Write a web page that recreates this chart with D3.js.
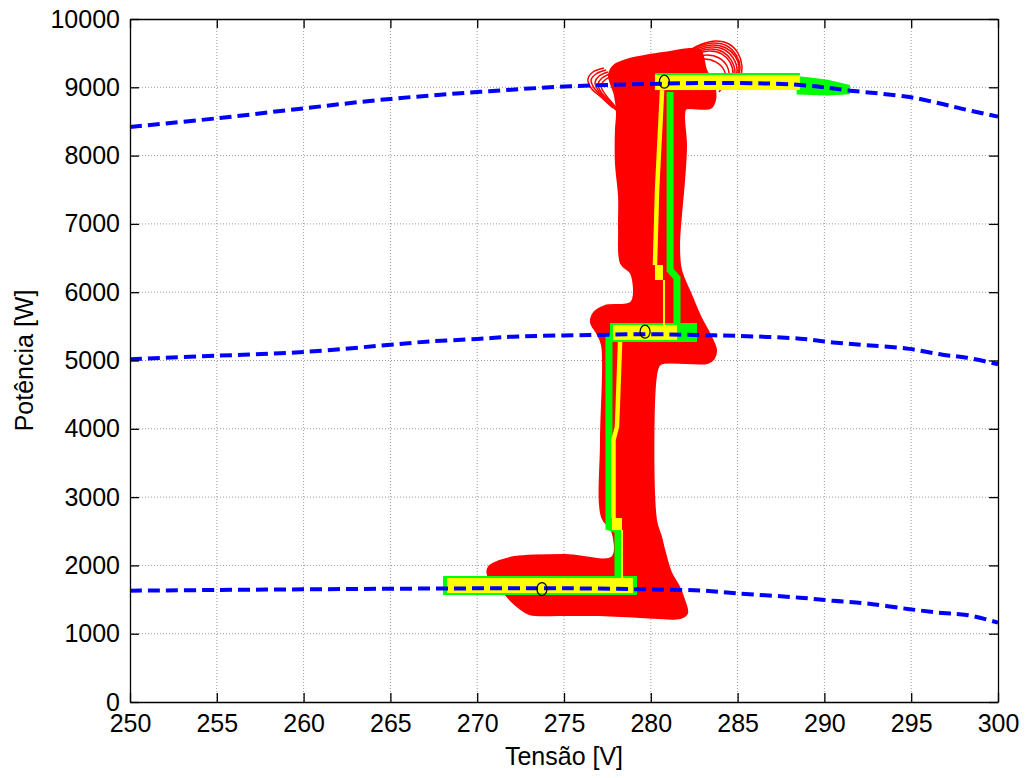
<!DOCTYPE html>
<html>
<head>
<meta charset="utf-8">
<script src="https://cdn.jsdelivr.net/npm/d3@7"></script>
<style>
  body { margin: 0; background: #fff; }
  svg text { font-family: "Liberation Sans", Arial, sans-serif; }
</style>
</head>
<body>
<svg id="chart" width="1025" height="778"></svg>
<script>
const xTicks = [250, 255, 260, 265, 270, 275, 280, 285, 290, 295, 300];
const yTicks = [0, 1000, 2000, 3000, 4000, 5000, 6000, 7000, 8000, 9000, 10000];

// power curves P-V near the maximum power point, one per irradiance level
const mppTop = [[250,8419],[255,8546],[260,8692],[265,8830],[270,8930],[275,9010],[280,9050],[285,9062],[288.6,9034],[291.5,8951],[294.9,8857],[296.8,8755],[298.2,8670],[300,8570]];
const mppMid = [[250,5020],[255,5070],[260,5125],[265,5230],[267.3,5280],[270,5315],[272,5349],[276.5,5373],[280,5385],[282.7,5373],[285,5360],[288.6,5320],[290.5,5265],[292.4,5225],[294.9,5170],[296.8,5085],[298.2,5041],[300,4946]];
const mppLow = [[250,1630],[255,1640],[260,1650],[265,1658],[270,1664],[275,1665],[280,1648],[283,1630],[285,1590],[288.6,1527],[290.5,1482],[292.4,1444],[294.9,1359],[296.8,1303],[298.2,1275],[300,1163]];

// maximum power points
const mppPoints = [[280.78,9082],[279.67,5422],[273.73,1654]];

// red trajectory cloud (outline)
const redCloud = [
  [277.65,9180],[277.94,9312],[278.80,9400],[279.95,9458],[281.11,9502],[282.26,9546],[282.83,9517],
  [283.12,9253],[283.58,9033],[283.64,8814],[283.41,8711],[281.97,8697],[281.86,8594],[281.97,8155],
  [281.86,7643],[281.68,7130],[281.57,6691],[281.68,6325],[282.26,5959],[282.83,5622],[283.29,5403],
  [283.70,5154],[283.58,5036],[283.24,4978],[280.53,4963],[280.30,4861],[280.24,2665],[280.53,2416],
  [280.76,2182],[281.11,1889],[281.57,1684],[281.86,1493],[282.03,1303],[281.68,1245],[279.38,1259],
  [277.07,1288],[274.77,1288],[273.04,1303],[272.18,1449],[271.60,1611],[271.14,1757],[270.68,1859],
  [270.74,1977],[271.31,2050],[272.18,2108],[275.06,2138],[277.82,2108],[277.82,2518],[277.25,2709],
  [277.19,3836],[277.25,5227],[276.96,5403],[276.61,5564],[276.79,5695],[277.36,5783],[278.92,5842],
  [278.92,6281],[278.34,6427],[278.23,6911],[278.23,7394],[278.05,7891],[278.05,8375],[278.11,8624],
  [277.99,8887]
];

// thin red loops at the top of the cloud
const redLoops = [
  [[282.26,9546],[282.95,9634],[283.76,9678],[284.50,9634],[285.02,9502],[285.25,9312],[285.14,9107]],
  [[282.14,9517],[282.83,9605],[283.64,9648],[284.39,9605],[284.91,9473],[285.14,9297],[284.97,9107]],
  [[282.09,9487],[282.78,9575],[283.58,9619],[284.33,9575],[284.85,9458],[285.08,9282],[284.85,9092]],
  [[282.03,9458],[282.72,9546],[283.53,9590],[284.27,9546],[284.74,9429],[284.97,9253],[284.74,9063]],
  [[281.97,9429],[282.66,9517],[283.47,9560],[284.16,9517],[284.62,9400],[284.85,9224],[284.62,9033]],
  [[281.91,9400],[282.60,9487],[283.41,9531],[284.10,9487],[284.56,9370],[284.74,9195],[284.50,9019]],
  [[281.80,9341],[282.49,9429],[283.24,9473],[283.93,9429],[284.39,9312],[284.50,9136],[284.22,8975]],
  [[281.68,9282],[282.37,9370],[283.06,9414],[283.76,9370],[284.22,9253],[284.27,9077],[283.93,8931]],
  [[277.30,9282],[276.67,9224],[276.38,9121],[276.56,8990],[277.13,8858],[277.82,8697]],
  [[277.42,9253],[276.84,9195],[276.56,9107],[276.73,8990],[277.30,8843],[277.99,8667]],
  [[277.53,9224],[277.02,9165],[276.79,9077],[276.96,8960],[277.53,8814],[278.17,8638]],
  [[277.65,9195],[277.19,9136],[276.96,9048],[277.13,8931],[277.71,8770],[278.29,8609]],
  [[277.76,9165],[277.36,9107],[277.13,9019],[277.36,8902],[277.88,8741],[278.40,8580]]
];

// green trajectory: [vMin, vMax, pMin, pMax] bands, tail outline and vertical traces
const greenBands = [[268.03,279.21,1567,1845],[277.65,282.66,5271,5549],[280.24,288.59,8960,9209]];
const greenTail = [[288.40,9165],[289.3,9140],[290.2,9110],[291.47,9033],[291.47,8900],[290.2,8880],[288.40,8895]];
const greenTraces = [
  [[278.11,1786],[278.11,2518],[277.59,2562],[277.59,5373]],
  [[281.11,8930],[281.11,6325],[281.51,6208],[281.51,5520]]
];

// yellow trajectory
const yellowBands = [[268.26,278.97,1596,1815],[277.82,281.51,5300,5520],[280.24,288.59,8960,9180],[277.76,278.34,2518,2694],[280.24,280.70,6179,6398]];
const yellowThick = [
  [[278.23,5271],[278.11,4422],[278.05,4026],[277.85,3836],[277.85,2694]],
  [[280.65,8960],[280.36,7496],[280.24,6398]]
];
const yellowThin = [
  [[278.34,2518],[278.34,1786]],
  [[280.76,6179],[280.76,5520]]
];

const W = 1025, H = 778;
const margin = { left: 130, right: 27, top: 19, bottom: 76 };
const usable = {
  left: margin.left, right: W - margin.right,
  top: margin.top, bottom: H - margin.bottom
};

const svg = d3.select("#chart");
svg.append("rect").attr("width", W).attr("height", H).attr("fill", "#fff");

const x = d3.scaleLinear().domain([250, 300]).range([usable.left, usable.right]);
const y = d3.scaleLinear().domain([0, 10000]).range([usable.bottom, usable.top]);

// grid
const grid = svg.append("g").attr("class", "grid")
  .attr("stroke", "#9a9a9a").attr("stroke-width", 1).attr("stroke-dasharray", "1,2");
grid.selectAll(".gx").data(xTicks.slice(1, -1)).join("line")
  .attr("x1", d => x(d)).attr("x2", d => x(d))
  .attr("y1", usable.top).attr("y2", usable.bottom);
grid.selectAll(".gy").data(yTicks.slice(1, -1)).join("line")
  .attr("x1", usable.left).attr("x2", usable.right)
  .attr("y1", d => y(d)).attr("y2", d => y(d));

const plot = svg.append("g");
const line = d3.line().x(d => x(d[0])).y(d => y(d[1]));
const smooth = d3.line().x(d => x(d[0])).y(d => y(d[1])).curve(d3.curveCatmullRom);

// red cloud
plot.append("path")
  .attr("d", d3.line().x(d => x(d[0])).y(d => y(d[1])).curve(d3.curveCatmullRomClosed)(redCloud))
  .attr("fill", "#ff0000").attr("stroke", "#ff0000")
  .attr("stroke-width", 4).attr("stroke-linejoin", "round");

plot.selectAll(".loop").data(redLoops).join("path")
  .attr("d", smooth)
  .attr("fill", "none").attr("stroke", "#ff0000").attr("stroke-width", 1.5);

// green
plot.selectAll(".gband").data(greenBands).join("rect")
  .attr("x", d => x(d[0])).attr("width", d => x(d[1]) - x(d[0]))
  .attr("y", d => y(d[3])).attr("height", d => y(d[2]) - y(d[3]))
  .attr("fill", "#00ff00");
plot.append("path")
  .attr("d", line.curve(d3.curveLinearClosed)(greenTail))
  .attr("fill", "#00ff00");
line.curve(d3.curveLinear);
plot.selectAll(".gtrace").data(greenTraces).join("path")
  .attr("d", line).attr("fill", "none")
  .attr("stroke", "#00ff00").attr("stroke-width", 7);

// yellow
plot.selectAll(".yband").data(yellowBands).join("rect")
  .attr("x", d => x(d[0])).attr("width", d => x(d[1]) - x(d[0]))
  .attr("y", d => y(d[3])).attr("height", d => y(d[2]) - y(d[3]))
  .attr("fill", "#ffff00");
plot.selectAll(".ythick").data(yellowThick).join("path")
  .attr("d", line).attr("fill", "none")
  .attr("stroke", "#ffff00").attr("stroke-width", 4.5);
plot.selectAll(".ythin").data(yellowThin).join("path")
  .attr("d", line).attr("fill", "none")
  .attr("stroke", "#ffff00").attr("stroke-width", 2);

// P-V curves
plot.selectAll(".mpp").data([mppTop, mppMid, mppLow]).join("path")
  .attr("d", smooth).attr("fill", "none")
  .attr("stroke", "#0000ff").attr("stroke-width", 4)
  .attr("stroke-dasharray", "12,6");

plot.selectAll(".mpp-pt").data(mppPoints).join("ellipse")
  .attr("cx", d => x(d[0])).attr("cy", d => y(d[1]))
  .attr("rx", 5).attr("ry", 6.5)
  .attr("fill", "none").attr("stroke", "#000").attr("stroke-width", 1.2);

// axes (ticks pointing inward on all four sides)
const fontSize = 25;
const styleAxis = g => {
  g.attr("font-size", fontSize).attr("font-family", '"Liberation Sans", Arial, sans-serif');
  g.select(".domain").attr("stroke", "#000").attr("stroke-width", 1.3);
  g.selectAll(".tick line").attr("stroke", "#000").attr("stroke-width", 1.3);
  g.selectAll(".tick text").attr("fill", "#000");
};

svg.append("g").attr("transform", `translate(0,${usable.bottom})`)
  .call(d3.axisBottom(x).tickValues(xTicks).tickSize(-9).tickSizeOuter(0).tickPadding(12).tickFormat(d3.format("d")))
  .call(styleAxis);
svg.append("g").attr("transform", `translate(${usable.left},0)`)
  .call(d3.axisLeft(y).tickValues(yTicks).tickSize(-9).tickSizeOuter(0).tickPadding(10).tickFormat(d3.format("d")))
  .call(styleAxis);
svg.append("g").attr("transform", `translate(0,${usable.top})`)
  .call(d3.axisTop(x).tickValues(xTicks).tickSize(-9).tickSizeOuter(0).tickFormat(""))
  .call(styleAxis);
svg.append("g").attr("transform", `translate(${usable.right},0)`)
  .call(d3.axisRight(y).tickValues(yTicks).tickSize(-9).tickSizeOuter(0).tickFormat(""))
  .call(styleAxis);

svg.append("text")
  .attr("x", (usable.left + usable.right) / 2).attr("y", 765)
  .attr("text-anchor", "middle").attr("font-size", fontSize)
  .text("Tensão [V]");

svg.append("text")
  .attr("transform", `translate(33,${(usable.top + usable.bottom) / 2}) rotate(-90)`)
  .attr("text-anchor", "middle").attr("font-size", fontSize)
  .text("Potência [W]");
</script>
</body>
</html>
